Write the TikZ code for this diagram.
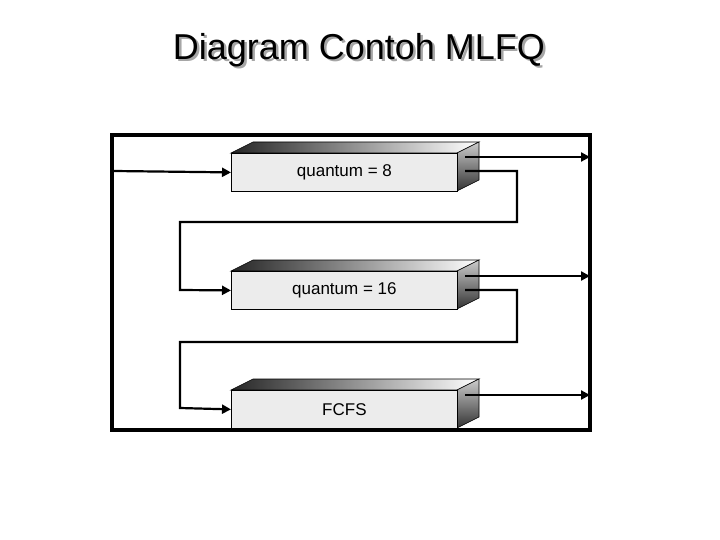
\documentclass[tikz,border=0pt]{standalone}
\usepackage{fontspec}
\setmainfont{Liberation Sans}
\usetikzlibrary{arrows.meta}
\begin{document}
\begin{tikzpicture}[x=1pt,y=-1pt,
  front/.style={draw=black,line width=0.8pt,fill=gray!15,minimum width=226pt,minimum height=38pt,inner sep=0pt,anchor=north west,font=\fontsize{17}{17}\selectfont},
  conn/.style={line width=2.2pt,-{Triangle[length=9pt,width=9pt]}},
  ttl/.style={font=\fontsize{36}{36}\selectfont}]
\useasboundingbox (0,0) rectangle (720,540);
\node[ttl,text=gray!70] (shadow) at (361.5,52.5) {Diagram Contoh MLFQ};
\node[ttl] (title) at (359,50) {Diagram Contoh MLFQ};
\begin{scope}
\clip (112,135) rectangle (590,430);
\foreach \n/\y/\t in {a/153/quantum = 8, b/271/quantum = 16, c/390/FCFS}{
  \shade[left color=black!85,right color=white,draw=black,line width=0.6pt]
    (231,\y) -- (253,\y-11) -- (479,\y-11) -- (457,\y) -- cycle;
  \shade[top color=gray!40,bottom color=black!80,draw=black,line width=0.6pt]
    (457,\y) -- (479,\y-11) -- (479,\y+27) -- (457,\y+38) -- cycle;
  \node[front] (\n) at (231,\y) {\t};
}
\end{scope}
\coordinate (s) at (114,171);
\draw[conn] (s) -- (a.west);
\coordinate (ao) at (590,157);
\draw[conn] (465,157) -- (ao);
\draw[conn] (465,171) -| (517,222) -| (180,290) -- (b.west);
\coordinate (bo) at (590,276);
\draw[conn] (465,276) -- (bo);
\draw[conn] (465,290) -| (517,342) -| (180,408) -- (c.west);
\coordinate (co) at (590,395);
\draw[conn] (465,395) -- (co);
\draw[line width=4pt] (112,135) rectangle (590,430);
\end{tikzpicture}
\end{document}
